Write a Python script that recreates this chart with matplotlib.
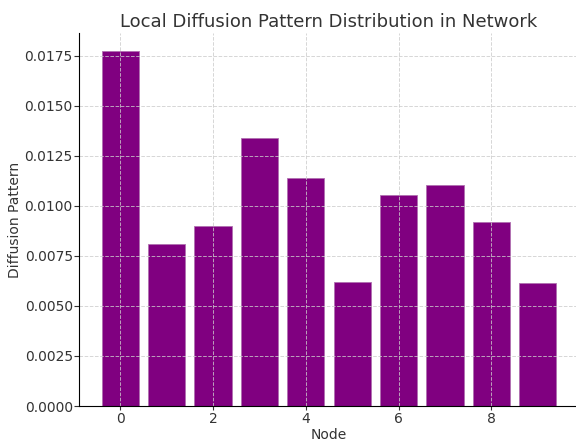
import numpy as np
import matplotlib.pyplot as plt

nodes = list(range(10))
diffusion = [0.01775, 0.0081, 0.00898, 0.01337, 0.01138, 0.00618, 0.01055, 0.01105, 0.00918, 0.00617]

plt.rcParams['text.color'] = '#333333'
plt.rcParams['axes.labelcolor'] = '#333333'
plt.rcParams['xtick.color'] = '#333333'
plt.rcParams['ytick.color'] = '#333333'

fig = plt.figure(figsize=(5.76, 4.41), dpi=100)
ax = fig.add_axes([79/576, 35/441, 500/576, 373/441])
ax.bar(nodes, diffusion, color='purple', edgecolor='#b070b0', linewidth=0.6)
ax.set_title('Local Diffusion Pattern Distribution in Network', fontsize=13, pad=4)
ax.set_xlabel('Node', labelpad=2)
ax.set_ylabel('Diffusion Pattern', labelpad=2)
ax.tick_params(axis='x', length=3, pad=1)
ax.tick_params(axis='y', length=3.5, pad=1)
ax.grid(True, linestyle='--', color='#cccccc', linewidth=0.7, alpha=0.8)
ax.spines['top'].set_visible(False)
ax.spines['right'].set_visible(False)
plt.savefig('out.png')
